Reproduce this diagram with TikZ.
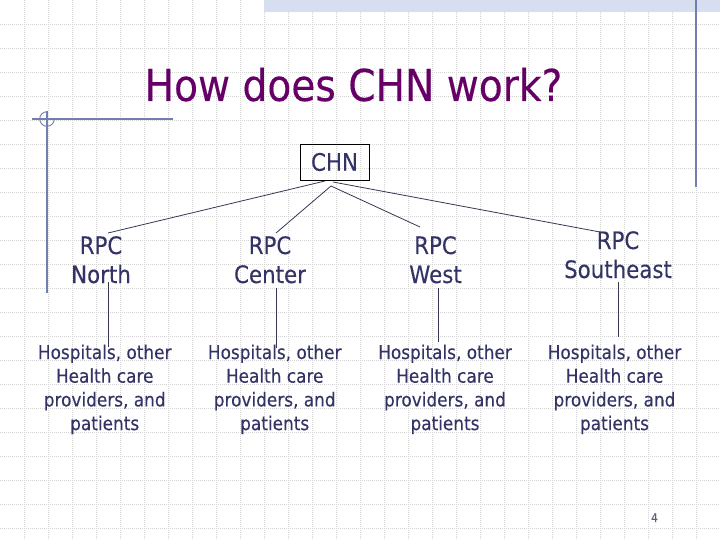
\documentclass[tikz,border=0pt]{standalone}
\usepackage{fontspec}
\setmainfont{DejaVu Sans}[FakeStretch=0.89,FakeBold=0.2]
\definecolor{textblue}{RGB}{51,51,102}
\definecolor{titlepurple}{RGB}{102,0,102}
\definecolor{decor}{RGB}{112,126,176}
\definecolor{gridgray}{RGB}{212,212,212}
\definecolor{bandblue}{RGB}{214,222,240}
\definecolor{linegray}{RGB}{55,55,85}
\tikzset{
  gridline/.style={gridgray, line width=0.7pt, dash pattern=on 1pt off 1pt},
  decorline/.style={decor, line width=1.1pt},
  titletext/.style={text=titlepurple, inner sep=0pt, font=\fontsize{44}{50}\selectfont},
  rpcbox/.style={text=textblue, inner sep=0pt, font=\fontsize{24}{29}\selectfont},
  hospbox/.style={text=textblue, inner sep=0pt, font=\fontsize{19}{23.7}\selectfont},
  chnbox/.style={draw=black, line width=0.8pt, text=textblue, inner sep=0pt, minimum width=69pt, minimum height=36pt, font=\fontsize{24}{29}\selectfont},
  conn/.style={linegray, line width=0.8pt},
  pagenum/.style={text=textblue!80, inner sep=0pt, font=\fontsize{12}{14}\selectfont}
}
\newcommand{\stack}[1]{\begin{tabular}[t]{@{}c@{}}#1\end{tabular}}
\begin{document}
\begin{tikzpicture}[x=1pt,y=-1pt]
\useasboundingbox (0,0) rectangle (720,540);
\fill[white] (0,0) rectangle (720,540);
% background grid
\foreach \i in {1,...,29} \draw[gridline] (24*\i,0) -- (24*\i,540);
\foreach \j in {1,...,22} \draw[gridline] (0,24*\j) -- (720,24*\j);
% top band
\fill[bandblue] (264,0) rectangle (720,12.5);
% decorative lines
\draw[decorline] (696,0) -- (696,187);
\draw[decorline] (32,119) -- (173,119);
\draw[decorline] (47,111) -- (47,293);
\draw[decorline, line width=0.9pt] (47,111.7) arc[start angle=-90, end angle=-360, radius=7.3];
% title
\node[titletext, anchor=base] (title) at (353.5,101) {How does CHN work?};
% root
\node[chnbox] (chn) at (334.5,162) {CHN\hspace{9pt}};
% regional nodes
\node[rpcbox, anchor=base] (rn) at (101,254) {\stack{RPC\\North}};
\node[rpcbox, anchor=base] (rc) at (270,254) {\stack{RPC\\Center}};
\node[rpcbox, anchor=base] (rw) at (435.5,254) {\stack{RPC\\West}};
\node[rpcbox, anchor=base] (rs) at (618,249) {\stack{RPC\\Southeast}};
% hospital nodes
\node[hospbox, anchor=base] (h1) at (104.7,359) {\stack{Hospitals, other\\Health care\\providers, and\\patients}};
\node[hospbox, anchor=base] (h2) at (274.7,359) {\stack{Hospitals, other\\Health care\\providers, and\\patients}};
\node[hospbox, anchor=base] (h3) at (445,359) {\stack{Hospitals, other\\Health care\\providers, and\\patients}};
\node[hospbox, anchor=base] (h4) at (614.5,359) {\stack{Hospitals, other\\Health care\\providers, and\\patients}};
% page number
\node[pagenum, anchor=base] (pg) at (654.5,522) {4};
% connector end points
\coordinate (apexl) at (325,181);
\coordinate (apexm) at (331,186);
\coordinate (apexr) at (333,182);
\coordinate (rnt) at (108,233);
\coordinate (rct) at (276,233);
\coordinate (rwt) at (420,227);
\coordinate (rst) at (600,232);
\coordinate (rnb) at (108,282);
\coordinate (rcb) at (276,288);
\coordinate (rwb) at (438.7,288);
\coordinate (rsb) at (618,282);
\coordinate (h1t) at (108,347);
\coordinate (h2t) at (276,348);
\coordinate (h3t) at (438.7,342);
\coordinate (h4t) at (618,337);
% connectors
\draw[conn] (apexl) -- (rnt);
\draw[conn] (apexm) -- (rct);
\draw[conn] (apexm) -- (rwt);
\draw[conn] (apexr) -- (rst);
\draw[conn] (rnb) -- (h1t);
\draw[conn] (rcb) -- (h2t);
\draw[conn] (rwb) -- (h3t);
\draw[conn] (rsb) -- (h4t);
\end{tikzpicture}
\end{document}
